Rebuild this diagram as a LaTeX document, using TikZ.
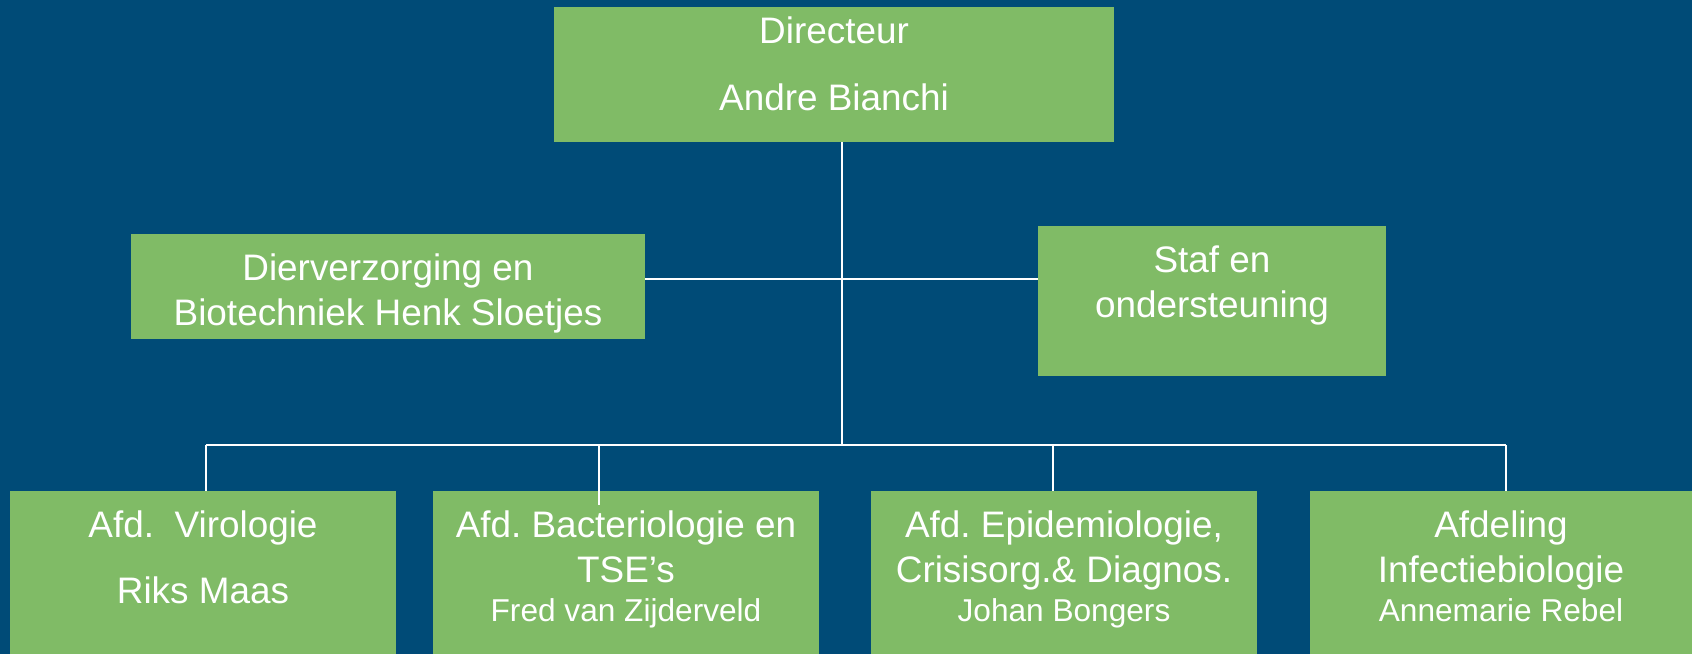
\documentclass[tikz,border=0pt]{standalone}
\usepackage{fontspec}
\setmainfont{Liberation Sans}
\usetikzlibrary{fit}
\definecolor{orgblue}{RGB}{0,75,119}
\definecolor{orggreen}{RGB}{128,187,102}
\newcommand\namesize{\fontsize{18}{22}\selectfont}
\frenchspacing

\begin{document}
\begin{tikzpicture}[x=0.02cm, y=-0.02cm,
  orgbox/.style={fill=orggreen, inner sep=0pt},
  orgtext/.style={text=white, align=center, anchor=north, inner sep=0pt,
    font=\fontsize{21}{25.6}\selectfont},
  link/.style={draw=white, line width=1.1pt}]
\fill[orgblue] (0,0) rectangle (1692,654);
\useasboundingbox (0,0) rectangle (1692,654);

% boxes
\node[orgbox, fit={(554,7) (1114,142)}] (dir) {};
\node[orgbox, fit={(131,234) (645,339)}] (dierv) {};
\node[orgbox, fit={(1038,226) (1386,376)}] (staf) {};
\node[orgbox, fit={(10,491) (396,654)}] (viro) {};
\node[orgbox, fit={(433,491) (819,654)}] (bact) {};
\node[orgbox, fit={(871,491) (1257,654)}] (epi) {};
\node[orgbox, fit={(1310,491) (1692,654)}] (infect) {};

% texts
\node[orgtext] (dirtxt) at ([yshift=-0.19cm]dir.north) {Directeur\\[12.5pt]Andre Bianchi};
\node[orgtext] (diervtxt) at ([yshift=-0.39cm]dierv.north) {Dierverzorging en\\Biotechniek Henk Sloetjes};
\node[orgtext] (staftxt) at ([yshift=-0.39cm]staf.north) {Staf en\\ondersteuning};
\node[orgtext] (virotxt) at ([yshift=-0.39cm]viro.north) {Afd.\ \ Virologie\\[12pt]Riks Maas};
\node[orgtext] (bacttxt) at ([yshift=-0.39cm]bact.north) {Afd. Bacteriologie en\\TSE’s\\[-3.4pt]{\namesize Fred van Zijderveld}};
\node[orgtext] (epitxt) at ([yshift=-0.39cm]epi.north) {Afd. Epidemiologie,\\Crisisorg.\& Diagnos.\\[-3.4pt]{\namesize Johan Bongers}};
\node[orgtext] (infecttxt) at ([yshift=-0.39cm]infect.north) {Afdeling\\Infectiebiologie\\[-3.4pt]{\namesize Annemarie Rebel}};

% connectors
\coordinate (split) at (842,445);
\coordinate (mid) at (842,279);
\coordinate (b1) at (206,445);
\coordinate (b2) at (599,445);
\coordinate (b3) at (1053,445);
\coordinate (b4) at (1506,445);
\draw[link] (split |- dir.south) -- (split);
\draw[link] (dierv.east |- mid) -- (staf.west |- mid);
\draw[link] (b1) -- (b4);
\draw[link] (b1) -- (b1 |- viro.north);
\draw[link] (b2) -- ([yshift=-0.28cm]b2 |- bact.north);
\draw[link] (b3) -- (b3 |- epi.north);
\draw[link] (b4) -- (b4 |- infect.north);
\end{tikzpicture}
\end{document}
